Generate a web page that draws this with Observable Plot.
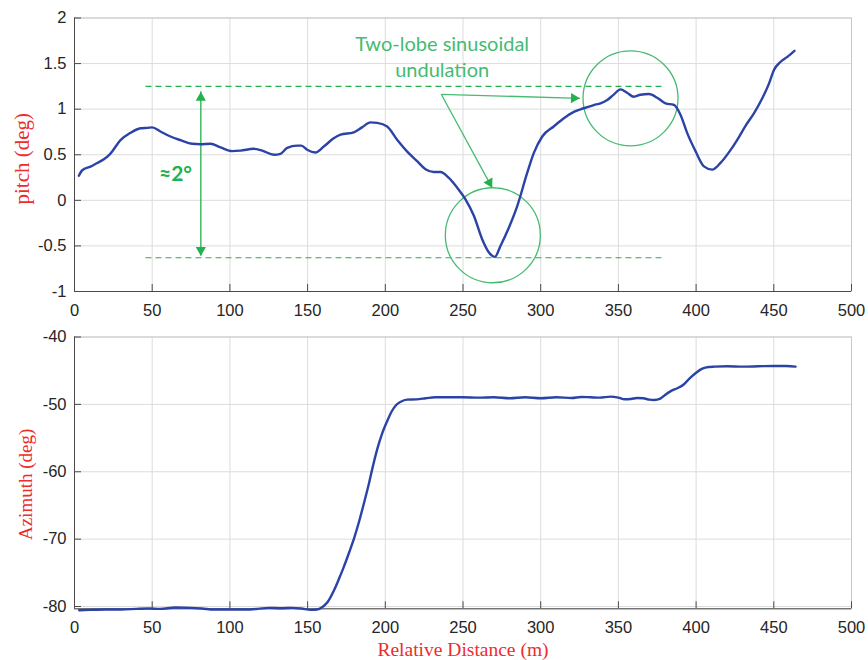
<!DOCTYPE html>
<html><head><meta charset="utf-8">
<script src="https://cdn.jsdelivr.net/npm/d3@7"></script>
<script src="https://cdn.jsdelivr.net/npm/@observablehq/plot@0.6"></script>
<style>body{margin:0;background:#fff;} svg{display:block;}</style>
</head><body><div id="chart"></div>
<script>
// ---- data ----
const distTicks = [0, 50, 100, 150, 200, 250, 300, 350, 400, 450, 500];
const pitchTicks = [-1, -0.5, 0, 0.5, 1, 1.5, 2];
const azTicks = [-80, -70, -60, -50, -40];
const pitchDomain = [-1, 2];
const azDomain = [-80.34, -40];

const pitchX = [2.8,5,10.3,14.6,18.9,23,29.6,36,42.5,47,50,55.3,61.8,68.2,75.7,81,87.5,94,101.5,106.8,115.4,120.8,128.3,132.5,136.9,143.3,146,149.7,155,160.4,166.8,171.2,179.7,185,190.5,194.8,201.2,207.6,214.1,220.5,225.9,231.2,235.5,240.9,246.3,251.6,257,262.4,266.6,270.5,274.1,279.5,284.9,291.3,295.6,301,308.4,314.9,321.3,327.7,334.2,338.5,342.8,347,351.3,355.6,359.9,364.2,369.6,375,380.3,385.7,390,394.3,399.7,405,410.4,415.7,421.1,426.5,431.8,437.2,442.6,446.9,450.1,454.4,458.7,463.3];
const pitchY = [0.27,0.33,0.37,0.41,0.45,0.51,0.66,0.74,0.79,0.795,0.8,0.755,0.7,0.66,0.62,0.615,0.62,0.58,0.54,0.545,0.565,0.545,0.5,0.51,0.575,0.6,0.6,0.555,0.525,0.59,0.68,0.72,0.745,0.8,0.855,0.85,0.81,0.665,0.535,0.43,0.34,0.31,0.31,0.245,0.137,0.01,-0.17,-0.43,-0.57,-0.62,-0.5,-0.3,-0.063,0.3,0.52,0.7,0.81,0.9,0.97,1.01,1.045,1.064,1.1,1.16,1.217,1.18,1.136,1.158,1.166,1.125,1.064,1.046,0.937,0.737,0.537,0.373,0.337,0.41,0.526,0.664,0.817,0.955,1.12,1.28,1.43,1.52,1.573,1.64];

const azX = [3,10,20,30,40,48,55,65,75,82,90,100,110,118,125,133,140,146,152,156,160,163,167,170,173,177,180,183,186,189,192,195,198,201,204,207,210,214,220,226,232,240,250,260,270,280,290,300,310,320,326,332,338,345,350,354,358,362,366,370,373,377,380,384,388,392,396,400,404,408,412,420,430,440,450,458,464];
const azY = [-80.55,-80.5,-80.45,-80.45,-80.35,-80.3,-80.35,-80.15,-80.2,-80.3,-80.45,-80.45,-80.45,-80.35,-80.2,-80.25,-80.2,-80.3,-80.5,-80.45,-80.0,-79.3,-77.6,-76.0,-74.3,-71.8,-69.8,-67.5,-64.9,-62.2,-59.2,-56.5,-54.3,-52.6,-51.1,-50.1,-49.6,-49.3,-49.25,-49.1,-48.95,-48.95,-48.95,-49.0,-48.95,-49.1,-48.95,-49.1,-48.95,-49.05,-48.9,-48.95,-49.0,-48.85,-49.0,-49.25,-49.2,-49.05,-49.1,-49.3,-49.35,-49.15,-48.6,-48.0,-47.6,-47.05,-46.1,-45.3,-44.7,-44.45,-44.4,-44.35,-44.4,-44.35,-44.3,-44.3,-44.4];

// annotations
const bandY = [1.25, -0.63];
const bandX = [46, 378];
const spanX = 81.3;
const spanY = [1.19, -0.61];
const spanLabel = "≈2°";
const spanLabelPos = [65, 0.29];
const circleX = [269.2, 357.8];
const circleY = [-0.383, 1.119];
const calloutFrom = [236, 1.163];
const calloutToX = [325.2, 268.8];
const calloutToY = [1.119, 0.137];
const noteText = "Two-lobe sinusoidal\nundulation";
const notePos = [236.6, 1.59];

const pitchLabel = "pitch (deg)";
const azLabel = "Azimuth (deg)";
const xLabel = "Relative Distance (m)";

// ---- layout ----
const W = 868;
const topCfg = {height: 320, marginLeft: 74, marginRight: 17, marginTop: 17.5, marginBottom: 29};
const botCfg = {height: 340, marginLeft: 74, marginRight: 17, marginTop: 16.5, marginBottom: 51.7};

const blue = "#2b43a6";
const green = "#22b14c";
const green2 = "#45bb72";
const red = "#ee2c2c";
const tickFmt = d => String(d);
const sans = "'Liberation Sans', Arial, sans-serif";
const serif = "'Liberation Serif', 'Times New Roman', serif";
const annFont = "Lato, 'Open Sans', sans-serif";

const pitchData = pitchX.map((x, i) => ({x, y: pitchY[i]}));
const azData = azX.map((x, i) => ({x, y: azY[i]}));

function frameMarks(cfg, yTicks, yDomain) {
  const fh = cfg.height - cfg.marginTop - cfg.marginBottom;
  const fw = W - cfg.marginLeft - cfg.marginRight;
  return [
    Plot.gridX(distTicks, {stroke: "#dcdcdc", strokeOpacity: 1}),
    Plot.gridY(yTicks, {stroke: "#dcdcdc", strokeOpacity: 1}),
    Plot.frame({stroke: "#c8c8c8"}),
    Plot.tickX(distTicks, {x: d => d, insetTop: fh - 7, stroke: "#4a4a4a"}),
    Plot.tickY(yTicks, {y: d => d, insetRight: fw - 7, stroke: "#4a4a4a"}),
    Plot.ruleX([0], {stroke: "#4a4a4a"}),
    Plot.ruleY([yDomain[0]], {stroke: "#4a4a4a"}),
    Plot.axisX(distTicks, {tickSize: 0, tickPadding: 12.5, tickFormat: tickFmt, label: null, fill: "#262626", fontSize: 16.5, fontFamily: sans}),
    Plot.axisY(yTicks, {tickSize: 0, tickPadding: 8, tickFormat: tickFmt, label: null, fill: "#262626", fontSize: 16.5, fontFamily: sans})
  ];
}

// scales for arrowhead placement (same domain/range as the plot)
const sx = d3.scaleLinear([0, 500], [topCfg.marginLeft, W - topCfg.marginRight]);
const sy = d3.scaleLinear(pitchDomain, [topCfg.height - topCfg.marginBottom, topCfg.marginTop]);
const headR = 3.8;
const apex = 2 * Math.sqrt(Math.PI * headR * headR / (3 * Math.sqrt(3)));
function head(fromX, fromY, tipX, tipY) {
  const x0 = sx(fromX), y0 = sy(fromY), x1 = sx(tipX), y1 = sy(tipY);
  const a = Math.atan2(y1 - y0, x1 - x0);
  const cx = x1 - apex * Math.cos(a), cy = y1 - apex * Math.sin(a);
  return {x: sx.invert(cx), y: sy.invert(cy), rotate: a * 180 / Math.PI + 90};
}
const heads = [
  head(spanX, spanY[1], spanX, spanY[0]),
  head(spanX, spanY[0], spanX, spanY[1])
];
const calloutHeads = calloutToX.map((x, i) => head(calloutFrom[0], calloutFrom[1], x, calloutToY[i]));

const pitchPlot = Plot.plot({
  width: W, ...topCfg,
  x: {domain: [0, 500]},
  y: {domain: pitchDomain},
  style: {fontFamily: sans, fontSize: "16.5px", color: "#262626", background: "white", overflow: "visible"},
  marks: [
    ...frameMarks(topCfg, pitchTicks, pitchDomain),
    Plot.ruleY(bandY, {x1: bandX[0], x2: bandX[1], stroke: green, strokeDasharray: "6,4", strokeWidth: 1.2}),
    Plot.ruleX([spanX], {y1: spanY[0], y2: spanY[1], stroke: green, strokeWidth: 1.3}),
    Plot.dot(heads, {x: "x", y: "y", rotate: "rotate", symbol: "triangle", r: headR, fill: green, stroke: "none"}),
    Plot.dot(circleX.map((x, i) => ({x, y: circleY[i]})), {x: "x", y: "y", r: 47.5, stroke: green2, fill: "none", strokeWidth: 1.3}),
    Plot.link(calloutToX.map((x, i) => ({x, y: calloutToY[i]})), {x1: calloutFrom[0], y1: calloutFrom[1], x2: "x", y2: "y", stroke: green2, strokeWidth: 1.3}),
    Plot.dot(calloutHeads, {x: "x", y: "y", rotate: "rotate", symbol: "triangle", r: headR, fill: green, stroke: "none"}),
    Plot.line(pitchData, {x: "x", y: "y", stroke: blue, strokeWidth: 2.4, curve: "monotone-x"}),
    Plot.text([noteText], {x: notePos[0], y: notePos[1], text: d => d, fill: green2, fontFamily: annFont, fontSize: 20, lineHeight: 1.33, textAnchor: "middle", lineAnchor: "middle"}),
    Plot.text([spanLabel], {x: spanLabelPos[0], y: spanLabelPos[1], text: d => d, fill: green, fontFamily: annFont, fontWeight: "bold", fontSize: 21, textAnchor: "middle", lineAnchor: "middle"}),
    Plot.text([pitchLabel], {frameAnchor: "left", text: d => d, rotate: -90, dx: -46, dy: 4, fill: red, fontFamily: serif, fontSize: 21, textAnchor: "middle", lineAnchor: "bottom"})
  ]
});

const azPlot = Plot.plot({
  width: W, ...botCfg,
  x: {domain: [0, 500]},
  y: {domain: azDomain},
  style: {fontFamily: sans, fontSize: "16.5px", color: "#262626", background: "white", overflow: "visible"},
  marks: [
    ...frameMarks(botCfg, azTicks, azDomain),
    Plot.line(azData, {x: "x", y: "y", stroke: blue, strokeWidth: 2.4, curve: "monotone-x"}),
    Plot.text([azLabel], {frameAnchor: "left", text: d => d, rotate: -90, dx: -43, dy: 11.5, fill: red, fontFamily: serif, fontSize: 19, textAnchor: "middle", lineAnchor: "bottom"}),
    Plot.text([xLabel], {frameAnchor: "bottom", text: d => d, dy: 47.5, fill: red, fontFamily: serif, fontSize: 19.5, textAnchor: "middle", lineAnchor: "bottom"})
  ]
});

const c = document.getElementById("chart");
c.appendChild(pitchPlot);
c.appendChild(azPlot);
</script>
</body></html>
